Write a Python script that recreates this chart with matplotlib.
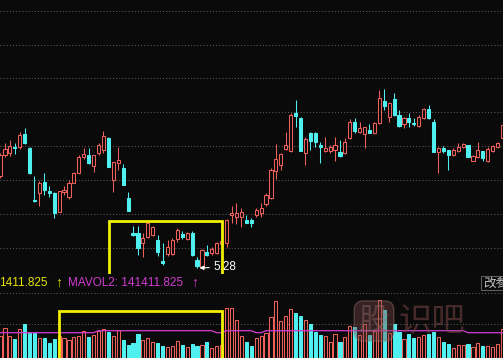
from __future__ import annotations

import matplotlib

matplotlib.use("Agg")
import matplotlib.pyplot as plt
import numpy as np
from matplotlib.patches import Rectangle

# daily OHLC, left to right (103 sessions)
OPENS = [
    6.20, 6.41, 6.43, 6.49, 6.49, 6.62, 6.48, 5.96, 6.03, 6.14,
    6.05, 6.03, 5.84, 6.04, 5.99, 6.13, 6.23, 6.39, 6.41, 6.30,
    6.43, 6.46, 6.58, 6.16, 6.33, 6.28, 5.98, 5.63, 5.63, 5.53,
    5.59, 5.61, 5.56, 5.35, 5.42, 5.42, 5.57, 5.62, 5.57, 5.63,
    5.36, 5.29, 5.44, 5.43, 5.43, 5.52, 5.53, 5.81, 5.79, 5.79,
    5.76, 5.76, 5.81, 5.83, 5.92, 5.98, 6.25, 6.31, 6.47, 6.45,
    6.83, 6.78, 6.43, 6.63, 6.63, 6.51, 6.45, 6.45, 6.46, 6.44,
    6.43, 6.58, 6.74, 6.64, 6.62, 6.66, 6.63, 6.73, 6.95, 6.79,
    6.97, 6.81, 6.72, 6.78, 6.73, 6.70, 6.78, 6.87, 6.74, 6.44,
    6.48, 6.46, 6.41, 6.45, 6.49, 6.51, 6.35, 6.39, 6.45, 6.35,
    6.45, 6.49, 6.58,
]
HIGHS = [
    6.43, 6.53, 6.56, 6.53, 6.64, 6.68, 6.49, 6.20, 6.15, 6.23,
    6.10, 6.04, 6.05, 6.10, 6.16, 6.24, 6.41, 6.48, 6.48, 6.41,
    6.53, 6.65, 6.59, 6.34, 6.49, 6.32, 6.04, 5.70, 5.70, 5.63,
    5.73, 5.70, 5.61, 5.53, 5.56, 5.58, 5.68, 5.65, 5.64, 5.65,
    5.39, 5.47, 5.51, 5.49, 5.54, 5.57, 5.77, 5.90, 5.93, 5.88,
    5.81, 5.78, 5.88, 5.93, 6.03, 6.28, 6.52, 6.43, 6.64, 6.83,
    6.96, 6.79, 6.59, 6.64, 6.64, 6.54, 6.59, 6.51, 6.59, 6.56,
    6.58, 6.77, 6.78, 6.74, 6.69, 6.72, 6.74, 7.06, 7.07, 6.94,
    7.03, 6.86, 6.79, 6.83, 6.78, 6.81, 6.88, 6.91, 6.77, 6.49,
    6.50, 6.46, 6.48, 6.53, 6.53, 6.51, 6.41, 6.54, 6.45, 6.49,
    6.51, 6.54, 6.78,
]
LOWS = [
    6.18, 6.39, 6.40, 6.42, 6.47, 6.52, 6.22, 5.94, 5.90, 6.01,
    5.99, 5.78, 5.84, 6.01, 5.97, 6.13, 6.23, 6.37, 6.32, 6.24,
    6.41, 6.43, 6.29, 6.04, 6.26, 6.11, 5.85, 5.60, 5.41, 5.39,
    5.58, 5.60, 5.40, 5.31, 5.40, 5.41, 5.54, 5.57, 5.56, 5.40,
    5.28, 5.29, 5.40, 5.41, 5.42, 5.50, 5.49, 5.73, 5.72, 5.69,
    5.73, 5.69, 5.79, 5.79, 5.90, 5.97, 6.17, 6.26, 6.46, 6.44,
    6.69, 6.45, 6.31, 6.46, 6.49, 6.33, 6.44, 6.43, 6.35, 6.39,
    6.42, 6.57, 6.63, 6.63, 6.48, 6.63, 6.62, 6.72, 6.86, 6.74,
    6.80, 6.69, 6.68, 6.69, 6.70, 6.69, 6.77, 6.77, 6.44, 6.23,
    6.43, 6.26, 6.40, 6.44, 6.48, 6.39, 6.35, 6.38, 6.35, 6.34,
    6.44, 6.48, 6.58,
]
CLOSES = [
    6.41, 6.47, 6.50, 6.48, 6.61, 6.53, 6.23, 5.95, 6.13, 6.06,
    6.03, 5.83, 6.05, 6.06, 6.13, 6.23, 6.39, 6.42, 6.33, 6.41,
    6.51, 6.60, 6.29, 6.34, 6.36, 6.11, 5.85, 5.61, 5.48, 5.58,
    5.73, 5.69, 5.44, 5.33, 5.49, 5.56, 5.66, 5.59, 5.63, 5.41,
    5.30, 5.46, 5.41, 5.47, 5.53, 5.55, 5.76, 5.83, 5.83, 5.84,
    5.73, 5.73, 5.86, 5.88, 6.01, 6.26, 6.37, 6.42, 6.51, 6.81,
    6.80, 6.45, 6.57, 6.55, 6.54, 6.49, 6.48, 6.49, 6.51, 6.40,
    6.54, 6.74, 6.65, 6.68, 6.69, 6.63, 6.73, 6.98, 6.90, 6.93,
    6.81, 6.70, 6.78, 6.74, 6.72, 6.79, 6.87, 6.78, 6.44, 6.48,
    6.45, 6.41, 6.46, 6.49, 6.52, 6.39, 6.40, 6.46, 6.38, 6.47,
    6.50, 6.53, 6.71,
]
VOLUMES = [
    110000, 150000, 110000, 95000, 145000, 170000, 125000, 125000, 100000, 100000,
    75000, 95000, 110000, 100000, 90000, 105000, 110000, 135000, 105000, 115000,
    135000, 145000, 130000, 110000, 140000, 90000, 65000, 75000, 120000, 90000,
    100000, 80000, 75000, 60000, 55000, 60000, 85000, 65000, 55000, 70000,
    60000, 65000, 80000, 50000, 60000, 65000, 250000, 250000, 190000, 110000,
    80000, 60000, 100000, 110000, 125000, 205000, 285000, 185000, 210000, 245000,
    225000, 210000, 190000, 170000, 130000, 115000, 110000, 80000, 120000, 80000,
    105000, 160000, 155000, 115000, 170000, 115000, 135000, 290000, 240000, 125000,
    170000, 130000, 95000, 120000, 100000, 105000, 115000, 120000, 130000, 105000,
    80000, 70000, 50000, 65000, 65000, 70000, 55000, 75000, 60000, 60000,
    55000, 70000, 145000,
]
MAVOL = (
    [126500] * 20 + [136500] * 24 + [126500] * 2 + [136500] * 6
    + [126500] * 2 + [136500] * 41 + [126500] * 8
)

PRICE_GRID = [7.85, 7.51, 7.18, 6.84, 6.50, 6.16, 5.82, 5.48]
VOL_GRID = [325000, 170000]

BG = "#0a0a0a"
UP = "#f0605a"
DOWN = "#50f0f0"
YELLOW = "#f2f000"
MAGENTA = "#d23cd2"
GRID = "#5a5a5a"
FONT = ["Liberation Sans", "DejaVu Sans"]
CJK = ["Noto Sans CJK SC", "DejaVu Sans"]

W, H = 503, 358


def fx(px: float) -> float:
    return px / W


def fy(py: float) -> float:
    return 1 - py / H


def px_rect(left: float, top: float, width: float, height: float) -> list:
    return [left / W, 1 - (top + height) / H, width / W, height / H]


def style_axes(ax, ticks, ylim) -> None:
    ax.set_facecolor(BG)
    ax.set_xlim(0, 102.1)
    ax.set_ylim(*ylim)
    ax.set_yticks(ticks)
    ax.set_xticks([])
    ax.tick_params(left=False, labelleft=False, bottom=False, labelbottom=False)
    ax.grid(axis="y", color=GRID, linestyle=(0, (1, 2)), linewidth=0.75)
    for s in ax.spines.values():
        s.set_visible(False)


def main() -> None:
    o = np.array(OPENS)
    h = np.array(HIGHS)
    l = np.array(LOWS)
    c = np.array(CLOSES)
    v = np.array(VOLUMES)
    x = np.arange(len(o))
    up = c >= o
    cols = np.where(up, UP, DOWN)
    faces = np.where(up, BG, DOWN)

    fig = plt.figure(figsize=(W / 100, H / 100), dpi=100, facecolor=BG)
    ax = fig.add_axes(px_rect(0, 0, W, 274))
    axv = fig.add_axes(px_rect(0, 274, W, 84))
    style_axes(ax, PRICE_GRID, (5.22, 7.96))
    style_axes(axv, VOL_GRID, (0, 420000))
    ax.spines["bottom"].set_visible(True)
    ax.spines["bottom"].set_color("#3c3c3c")

    # candles
    ax.vlines(x, l, h, colors=cols, linewidth=0.75, zorder=2)
    body = np.maximum(np.abs(c - o), 0.008)
    ax.bar(x, body, bottom=np.minimum(o, c), width=0.64, color=faces,
           edgecolor=cols, linewidth=0.75, zorder=3)

    lo = int(np.argmin(l))
    ax.annotate(f"{l[lo]:.2f}", xy=(lo + 0.2, l[lo]), xytext=(43.3, 5.29),
                color="white", fontsize=8.5, family=FONT, ha="left", va="center",
                arrowprops=dict(arrowstyle="-|>", color="white", lw=0.8,
                                mutation_scale=6, shrinkA=1, shrinkB=1),
                zorder=4)

    ax.add_patch(Rectangle((22.13, 5.215), 22.95, 0.54, fill=False,
                           edgecolor=YELLOW, linewidth=2.0, clip_on=False, zorder=6))

    # volume
    axv.bar(x, v, width=0.64, color=faces, edgecolor=cols, linewidth=0.75, zorder=2)
    axv.plot(x, MAVOL, color=MAGENTA, linewidth=0.9, zorder=3)
    axv.add_patch(Rectangle((11.92, -20000), 33.16, 257500, fill=False,
                            edgecolor=YELLOW, linewidth=2.0, zorder=6))

    ty = fy(283)
    fig.text(fx(-1), ty, "1411.825", color="#e6e600", fontsize=8.5, family=FONT, va="center")
    fig.text(fx(55.5), ty, "↑", color="#e6e600", fontsize=10, family=FONT, va="center")
    fig.text(fx(68), ty, "MAVOL2: 141411.825", color=MAGENTA, fontsize=8.5, family=FONT, va="center")
    fig.text(fx(191.5), ty, "↑", color=MAGENTA, fontsize=10, family=FONT, va="center")

    fig.patches.append(Rectangle((fx(480.5), fy(290)), 25 / W, 14.5 / H, transform=fig.transFigure,
                                 fill=False, edgecolor="#5c5c5c", linewidth=0.8))
    fig.text(fx(483), ty, "改参", color="#c4c4c4", fontsize=9, family=CJK, va="center")

    # site watermark
    wm = "#7a4848"
    fig.text(fx(374), fy(321), "股", color="#a07070", alpha=0.4, fontsize=22, family=CJK,
             ha="center", va="center",
             bbox=dict(boxstyle="round,pad=0.15,rounding_size=0.3", facecolor=wm,
                       edgecolor="#9a7a7a", alpha=0.4))
    fig.text(fx(398), fy(322), "识吧", color=wm, alpha=0.55, fontsize=24, family=CJK,
             ha="left", va="center")

    fig.savefig("out.png", dpi=100, facecolor=BG)
    plt.close(fig)


if __name__ == "__main__":
    main()
